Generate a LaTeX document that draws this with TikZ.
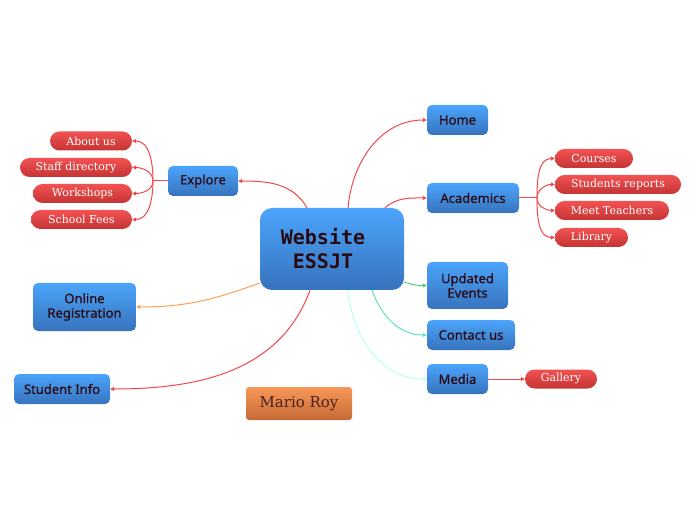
\documentclass[tikz,border=0pt]{standalone}
\usepackage{fontspec}
\newfontfamily\boxfont[FakeBold=0.6]{Noto Sans}
\newfontfamily\leaffont{DejaVu Serif}
\newfontfamily\hubfont{DejaVu Sans Mono}
\usepackage{xcolor}
\definecolor{boxtop}{HTML}{4BA4FB}
\definecolor{boxbot}{HTML}{3773BD}
\definecolor{leaftop}{HTML}{F25252}
\definecolor{leafbot}{HTML}{C43434}
\definecolor{ortop}{HTML}{F89858}
\definecolor{orbot}{HTML}{C46A36}
\definecolor{ink}{HTML}{2A0A12}
\definecolor{hotline}{HTML}{F24848}
\definecolor{orline}{HTML}{FFA050}
\definecolor{grline}{HTML}{50CC80}
\definecolor{tealline}{HTML}{60E0C4}
\definecolor{cyanline}{HTML}{B8FFF4}
\usepackage{tikz}
\usetikzlibrary{positioning,arrows.meta,shapes.misc}

\begin{document}
\begin{tikzpicture}[x=1pt, y=1pt, >={Triangle[length=4pt,width=4pt]}]
\tikzset{topic/.style={top color=boxtop, bottom color=boxbot, draw=none, rounded corners=5pt, minimum height=30pt, inner sep=0pt, align=center, text=ink, font=\boxfont\fontsize{13}{14.5}\selectfont},
  leaf/.style={rounded rectangle, top color=leaftop, bottom color=leafbot, minimum height=19pt, inner sep=0pt, text=white, font=\leaffont\fontsize{11}{12}\selectfont},
  link/.style={->, line width=1pt}}
\useasboundingbox (0,0) rectangle (696,520);
\node[topic, rounded corners=12pt, minimum width=144pt, minimum height=82pt, font=\hubfont\bfseries\fontsize{20}{24}\selectfont] (web) at (332,271) {Website\hspace*{18pt}\\ESSJT\hspace*{18pt}};
\node[topic, minimum width=61pt] (home)  at (457.5,400) {Home};
\node[topic, minimum width=92pt] (acad)  at (473,322)   {Academics};
\node[topic, minimum width=70pt] (expl)  at (203,339)   {Explore};
\node[topic, minimum width=81pt, minimum height=47pt] (upd) at (467.5,234.5) {Updated\\Events};
\node[topic, minimum width=88pt] (cont)  at (471,185)   {Contact us};
\node[topic, minimum width=61pt] (media) at (457.5,141) {Media};
\node[topic, minimum width=103pt, minimum height=48pt] (onl) at (84.5,213) {Online\\Registration};
\node[topic, minimum width=96pt] (stud)  at (62,131)    {Student Info};
\node[topic, top color=ortop, bottom color=orbot, rounded corners=3pt, minimum width=106pt, minimum height=33pt, text=ink!80!brown, font=\leaffont\fontsize{15}{17}\selectfont] (mario) at (299,116.5) {Mario Roy};
\node[leaf, minimum width=82pt]  (about)   at (91,379)     {About us};
\node[leaf, minimum width=112pt] (staff)   at (76,352.5)   {Staff directory};
\node[leaf, minimum width=99pt]  (work)    at (82.5,326.5) {Workshops};
\node[leaf, minimum width=101pt] (fees)    at (81.5,300.5) {School Fees};
\node[leaf, minimum width=78pt]  (courses) at (594,361.5)  {Courses};
\node[leaf, minimum width=126pt] (reports) at (618,335.5)  {Students reports};
\node[leaf, minimum width=114pt] (teach)   at (612,309.5)  {Meet Teachers};
\node[leaf, minimum width=73pt]  (lib)     at (591.5,282.5) {Library};
\node[leaf, minimum width=72pt]  (gallery) at (561,141)    {Gallery};
\coordinate (ej) at (153,339);
\coordinate (aj) at (537,322);
\draw[link, hotline] ([xshift=16pt]web.north) to[out=85, in=180] (home.west);
\draw[link, hotline] ([xshift=53pt]web.north) to[out=40, in=180] (acad.west);
\draw[link, hotline] ([xshift=-25pt]web.north) to[out=120, in=0] (expl.east);
\draw[link, grline] ([yshift=-33pt]web.east) to[out=-20, in=180] (upd.west);
\draw[link, tealline] ([xshift=40pt]web.south) to[out=-70, in=180] (cont.west);
\draw[link, cyanline] ([xshift=16pt]web.south) to[out=-85, in=180] (media.west);
\draw[link, orline] ([yshift=-34pt]web.west) to[out=200, in=0] (onl.east);
\draw[link, hotline] ([xshift=-22pt]web.south) to[out=-110, in=0] (stud.east);
\draw[line width=1pt, hotline] (expl.west) -- (ej);
\draw[link, hotline] (ej) to[out=90, in=0] (about.east);
\draw[link, hotline] (ej) to[out=90, in=0] (staff.east);
\draw[link, hotline] (ej) to[out=-90, in=0] (work.east);
\draw[link, hotline] (ej) to[out=-90, in=0] (fees.east);
\draw[line width=1pt, hotline] (acad.east) -- (aj);
\draw[link, hotline] (aj) to[out=90, in=180] (courses.west);
\draw[link, hotline] (aj) to[out=90, in=180] (reports.west);
\draw[link, hotline] (aj) to[out=-90, in=180] (teach.west);
\draw[link, hotline] (aj) to[out=-90, in=180] (lib.west);
\draw[link, hotline] (media.east) -- (gallery.west);
\end{tikzpicture}
\end{document}
